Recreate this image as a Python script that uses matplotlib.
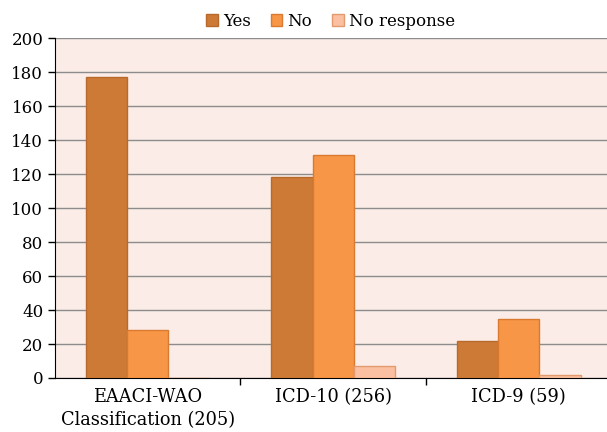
import numpy as np
import matplotlib.pyplot as plt

categories = ['EAACI-WAO\nClassification (205)', 'ICD-10 (256)', 'ICD-9 (59)']
yes = [177, 118, 22]
no = [28, 131, 35]
no_response = [0, 7, 2]
series_names = ['Yes', 'No', 'No response']

plt.rcParams['font.family'] = ['DejaVu Serif']

fig = plt.figure(figsize=(6.07, 4.32), dpi=100)
ax = fig.add_axes([0.0906, 0.125, 0.9168, 0.787])
ax.set_facecolor('#FBECE7')

x = np.arange(len(categories))
w = 0.222
colors = ['#CD7A36', '#F79646', '#FAC0A1']
edges = ['#B86A2C', '#D97A30', '#E39A6E']
for i, (vals, name) in enumerate(zip([yes, no, no_response], series_names)):
    ax.bar(x + (i - 1) * w, vals, w, color=colors[i], edgecolor=edges[i],
           linewidth=1.0, label=name, zorder=3)

ax.set_ylim(0, 200)
ax.set_yticks(range(0, 201, 20))
ax.set_xlim(-0.5, 2.5)
ax.set_xticks(x)
ax.set_xticklabels(categories, linespacing=1.4)
ax.tick_params(axis='x', length=0, labelsize=12.8, pad=7)
ax.set_xticks([0.5, 1.5], minor=True)
ax.tick_params(axis='x', which='minor', length=5, width=1, color='black', direction='out')
ax.tick_params(axis='y', length=5, width=1, labelsize=12, direction='out')
ax.grid(axis='y', color='#8C8C8C', linewidth=1, zorder=0)

for s in ['top', 'right']:
    ax.spines[s].set_visible(False)
ax.spines['left'].set_color('black')
ax.spines['bottom'].set_color('black')

ax.legend(loc='lower center', bbox_to_anchor=(0.495, 1.005), ncol=3, frameon=False,
          fontsize=12, handlelength=0.7, handleheight=0.7, handletextpad=0.3,
          columnspacing=1.2, borderaxespad=0)

fig.savefig('out.png', dpi=100)
